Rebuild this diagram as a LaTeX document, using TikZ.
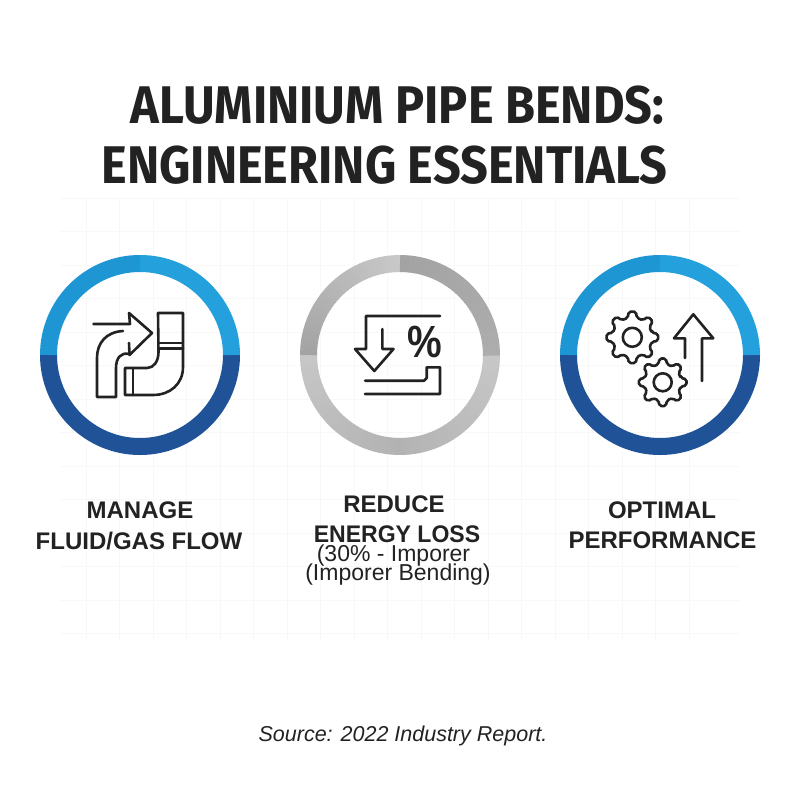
\documentclass[tikz,border=0pt]{standalone}
\usepackage{fontspec}
\setmainfont{Liberation Sans}
\newfontfamily\ttlfont[BoldFont=* Bold]{Fira Sans}
\usetikzlibrary{calc}
\definecolor{ink}{HTML}{222222}
\definecolor{blueA}{HTML}{1F96D4}
\definecolor{blueB}{HTML}{24A0DC}
\definecolor{blueC}{HTML}{1F5297}
\definecolor{gridc}{HTML}{F8F8F8}
\newcommand{\fs}[1]{\fontsize{#1}{#1}\selectfont}
\newcommand{\sx}[2]{\scalebox{#1}[1]{#2}}
\tikzset{
  ringseg/.style={line width=17pt},
  icon/.style={draw=ink,line width=2.6pt,line cap=round,line join=round},
  ttl/.style={anchor=base,inner sep=0pt,text=ink,font=\ttlfont\fs{53}\bfseries},
  lab/.style={anchor=base,inner sep=0pt,text=ink,font=\fs{24}\bfseries},
  sublab/.style={anchor=base,inner sep=0pt,text=ink,font=\fs{23}},
  srclab/.style={anchor=base,inner sep=0pt,text=ink,font=\fs{21.5}\itshape},
}
\newcommand{\gear}[5]{% cx cy outer root hub
  \draw[icon,rounded corners=2pt,fill=white] ($(#1,#2)+(-13:#4)$)
    \foreach \k in {0,45,...,315}{
      -- ($(#1,#2)+(\k-13:#4)$) -- ($(#1,#2)+(\k-8:#3)$) -- ($(#1,#2)+(\k+8:#3)$) -- ($(#1,#2)+(\k+13:#4)$)
    } -- cycle;
  \draw[icon] (#1,#2) circle[radius=#5];
}
\begin{document}
\begin{tikzpicture}[x=1pt,y=-1pt]
\useasboundingbox (0,0) rectangle (800,800);
\fill[white] (0,0) rectangle (800,800);
% faint grid
\foreach \gx in {86,119.5,...,720}{\draw[gridc,line width=.8pt] (\gx,198) -- (\gx,640);}
\foreach \gy in {198,231.5,...,640}{\draw[gridc,line width=.8pt] (60,\gy) -- (740,\gy);}
% rings
\foreach \cx in {140,660}{
  \begin{scope}[shift={(\cx,355)}]
    \draw[ringseg,blueC] (0:91.5) arc[start angle=0,end angle=180,radius=91.5];
    \draw[ringseg,blueA] (180:91.5) arc[start angle=180,end angle=270,radius=91.5];
    \draw[ringseg,blueB] (270:91.5) arc[start angle=270,end angle=360,radius=91.5];
  \end{scope}
}
\begin{scope}[shift={(400,355)}]
  \foreach \a in {0,3,...,177}{
    \pgfmathsetmacro{\pc}{22+8*(1-abs(\a-90)/90)}
    \draw[ringseg,black!\pc!white] (\a:91.5) arc[start angle=\a,end angle=\a+3.4,radius=91.5];
  }
  \foreach \a in {180,183,...,267}{
    \pgfmathsetmacro{\pc}{36-15*(\a-180)/90}
    \draw[ringseg,black!\pc!white] (\a:91.5) arc[start angle=\a,end angle=\a+3.4,radius=91.5];
  }
  \foreach \a in {270,273,...,357}{
    \pgfmathsetmacro{\pc}{36-4*(\a-270)/90}
    \draw[ringseg,black!\pc!white] (\a:91.5) arc[start angle=\a,end angle=\a+3.4,radius=91.5];
  }
\end{scope}
% icon 1: flow arrow and bends
\draw[icon] (93.5,324) -- (130,324) -- (129,313) -- (152,333) -- (129.5,355) -- (129,343);
\draw[icon] (123,331) .. controls (106,332) and (97,343) .. (97,358) -- (97,397) -- (116,397) -- (116,368) .. controls (116,358) and (121,352) .. (129,354);
\draw[icon] (158,313) -- (183,313) -- (183,367) .. controls (183,384) and (170,395) .. (153,395) -- (125,395) -- (125,368) -- (147,368) .. controls (154,368) and (158.5,361) .. (158.5,352) -- cycle;
\draw[icon] (159,343) -- (183,343);
\draw[icon] (159,348.5) -- (183,348.5);
\draw[icon] (133,368) -- (133,395);
% icon 2: down arrow, percent, channel
\draw[icon] (440,316) -- (366,316) -- (366,349) -- (355,349) -- (374.3,371) -- (393.5,349) -- (382.3,349) -- (382.3,329);
\node[inner sep=0pt,text=ink,font=\fs{41}\bfseries] (pct) at (424.5,341.5) {\scalebox{.95}[1.1]{\%}};
\draw[icon] (365,380.7) -- (424,380.7) -- (426.7,378) -- (426.7,367.3) -- (440,367.3) -- (440,394) -- (365,394);
% icon 3: gears and up arrow
\gear{632.3}{337.3}{26}{20}{9.5}
\gear{662.7}{382.3}{24}{18.5}{9}
\draw[icon] (685,358) -- (685,338.3) -- (674,338.3) -- (693.3,314.3) -- (713.3,338.3) -- (702,338.3) -- (702,381);
% texts
\node[ttl] (t1) at (397.5,123.5) {\sx{.918}{ALUMINIUM PIPE BENDS:}};
\node[ttl] (t2) at (384.5,183) {\sx{.918}{ENGINEERING ESSENTIALS}};
\node[lab] (a1) at (140,518) {MANAGE};
\node[lab] (a2) at (139,549) {FLUID/GAS FLOW};
\node[lab] (b1) at (394,512) {REDUCE};
\node[lab] (b2) at (397,542.5) {\sx{.96}{ENERGY LOSS}};
\node[sublab] (b3) at (393.5,561.7) {(30\% - Imporer};
\node[sublab] (b4) at (398,580) {(Imporer Bending)};
\node[lab] (c1) at (662,518) {OPTIMAL};
\node[lab] (c2) at (662.5,548.5) {PERFORMANCE};
\node[srclab] (src) at (403,741) {Source: 2022 Industry Report.};
\end{tikzpicture}
\end{document}
